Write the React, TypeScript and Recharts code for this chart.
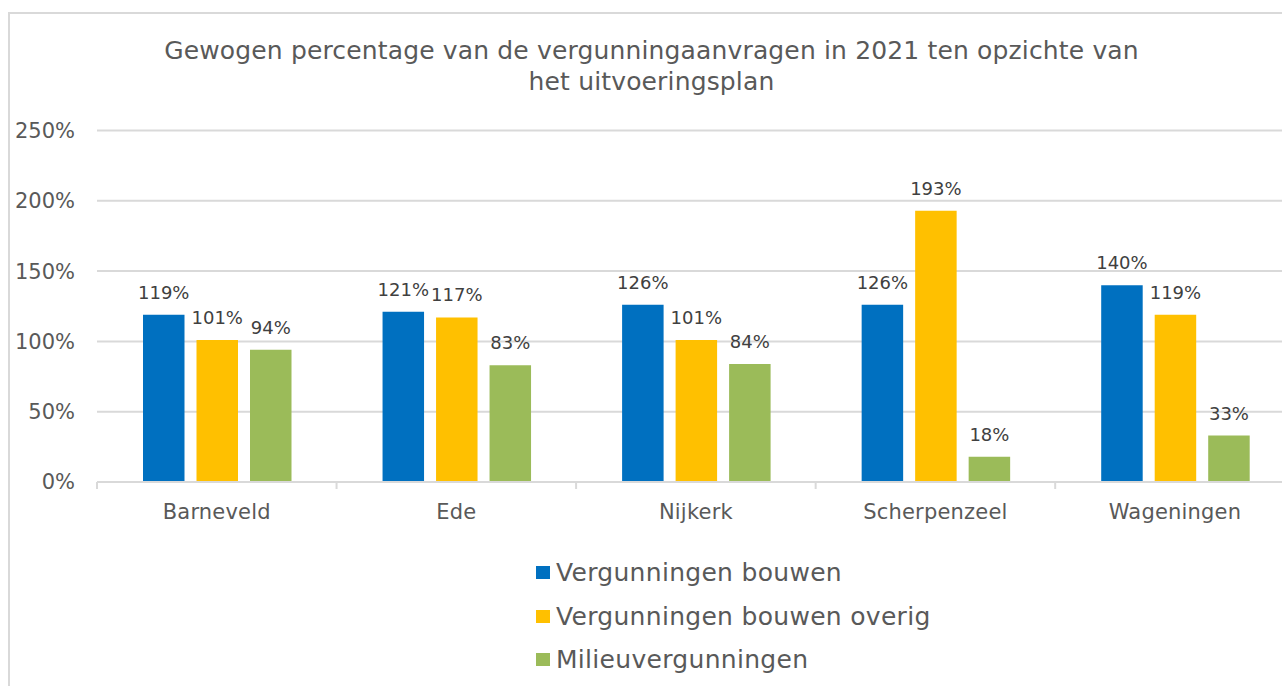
import React from 'react';
import { BarChart, Bar, XAxis, YAxis, CartesianGrid, Legend, LabelList } from 'recharts';

const categories = ['Barneveld', 'Ede', 'Nijkerk', 'Scherpenzeel', 'Wageningen'];
const vergunningenBouwen = [119, 121, 126, 126, 140];
const vergunningenBouwenOverig = [101, 117, 101, 193, 119];
const milieuvergunningen = [94, 83, 84, 18, 33];
const yTicks = [0, 50, 100, 150, 200, 250];
const seriesNames = ['Vergunningen bouwen', 'Vergunningen bouwen overig', 'Milieuvergunningen'];
const seriesColors = ['#0070C0', '#FFC000', '#9BBB59'];
const titleLines = [
  'Gewogen percentage van de vergunningaanvragen in 2021 ten opzichte van',
  'het uitvoeringsplan',
];

const data = categories.map((name, i) => ({
  name,
  bouwen: vergunningenBouwen[i],
  overig: vergunningenBouwenOverig[i],
  milieu: milieuvergunningen[i],
}));

const FONT = '"DejaVu Sans", Verdana, sans-serif';
const TEXT = '#595959';
const GRID = '#d9d9d9';

const CHART_W = 1310;
const CHART_H = 686;
const MARGIN = { top: 130.5, right: 15.25, bottom: 164, left: 7 };
const Y_W = 90;
const X_H = 40;
const PLOT_W = CHART_W - MARGIN.left - MARGIN.right - Y_W;
const BAND = PLOT_W / categories.length;

const XTick = (props: any) => {
  const { x, y, payload } = props;
  const left = x - BAND / 2;
  return (
    <g>
      <line x1={left} x2={left} y1={y} y2={y + 7} stroke={GRID} strokeWidth={2} />
      <text x={x} y={y + 36.5} textAnchor="middle" fill={TEXT} fontSize={21} fontFamily={FONT} letterSpacing={0.2}>
        {payload.value}
      </text>
    </g>
  );
};

const renderLegend = (props: any) => {
  const items = [...(props.payload || [])].sort(
    (a: any, b: any) => seriesNames.indexOf(a.value) - seriesNames.indexOf(b.value)
  );
  return (
    <div style={{ fontFamily: FONT }}>
      {items.map((entry: any, i: number) => (
        <div key={i} style={{ height: 43.5, display: 'flex', alignItems: 'center' }}>
          <span
            style={{
              display: 'inline-block',
              width: 14,
              height: 13,
              background: entry.color,
              marginRight: 6,
            }}
          />
          <span style={{ fontSize: 25, lineHeight: '25px', color: TEXT, whiteSpace: 'nowrap', letterSpacing: 0.3 }}>
            {entry.value}
          </span>
        </div>
      ))}
    </div>
  );
};

const labelStyle = { fill: '#404040', fontSize: 18, fontFamily: FONT };

export default function App() {
  return (
    <div
      style={{
        position: 'absolute',
        left: 0,
        top: 0,
        width: 1282,
        height: 686,
        overflow: 'hidden',
        background: '#ffffff',
      }}
    >
      <div
        style={{
          position: 'absolute',
          left: 8,
          top: 12,
          width: 1400,
          height: 800,
          borderLeft: `2px solid ${GRID}`,
          borderTop: `2px solid ${GRID}`,
        }}
      />
      <div
        style={{
          position: 'absolute',
          left: 0,
          top: 35,
          width: 1303,
          textAlign: 'center',
          fontFamily: FONT,
          fontSize: 25,
          lineHeight: '31px',
          color: TEXT,
          whiteSpace: 'nowrap',
          letterSpacing: 0.15,
          zIndex: 2,
        }}
      >
        {titleLines.map((l, i) => (
          <div key={i}>{l}</div>
        ))}
      </div>
      <div style={{ position: 'absolute', left: 0, top: 0 }}>
        <BarChart
          width={CHART_W}
          height={CHART_H}
          data={data}
          margin={MARGIN}
          barGap={12}
          barSize={41.5}
        >
          <CartesianGrid vertical={false} stroke={GRID} strokeWidth={2} />
          <XAxis
            dataKey="name"
            height={X_H}
            axisLine={{ stroke: GRID, strokeWidth: 2 }}
            tickLine={false}
            tickSize={0}
            tickMargin={0}
            interval={0}
            tick={<XTick />}
          />
          <YAxis
            width={Y_W}
            domain={[0, 250]}
            ticks={yTicks}
            axisLine={false}
            tickLine={false}
            tickSize={0}
            tickMargin={22}
            tickFormatter={(v: number) => `${v}%`}
            tick={{ fill: TEXT, fontSize: 21, fontFamily: FONT }}
          />
          <Legend
            layout="vertical"
            align="center"
            verticalAlign="middle"
            content={renderLegend}
            wrapperStyle={{ left: 536, top: 551, width: 460 }}
          />
          <Bar dataKey="bouwen" name={seriesNames[0]} fill={seriesColors[0]} isAnimationActive={false}>
            <LabelList dataKey="bouwen" position="top" offset={16} formatter={(v: any) => `${v}%`} style={labelStyle} />
          </Bar>
          <Bar dataKey="overig" name={seriesNames[1]} fill={seriesColors[1]} isAnimationActive={false}>
            <LabelList dataKey="overig" position="top" offset={16} formatter={(v: any) => `${v}%`} style={labelStyle} />
          </Bar>
          <Bar dataKey="milieu" name={seriesNames[2]} fill={seriesColors[2]} isAnimationActive={false}>
            <LabelList dataKey="milieu" position="top" offset={16} formatter={(v: any) => `${v}%`} style={labelStyle} />
          </Bar>
        </BarChart>
      </div>
    </div>
  );
}
